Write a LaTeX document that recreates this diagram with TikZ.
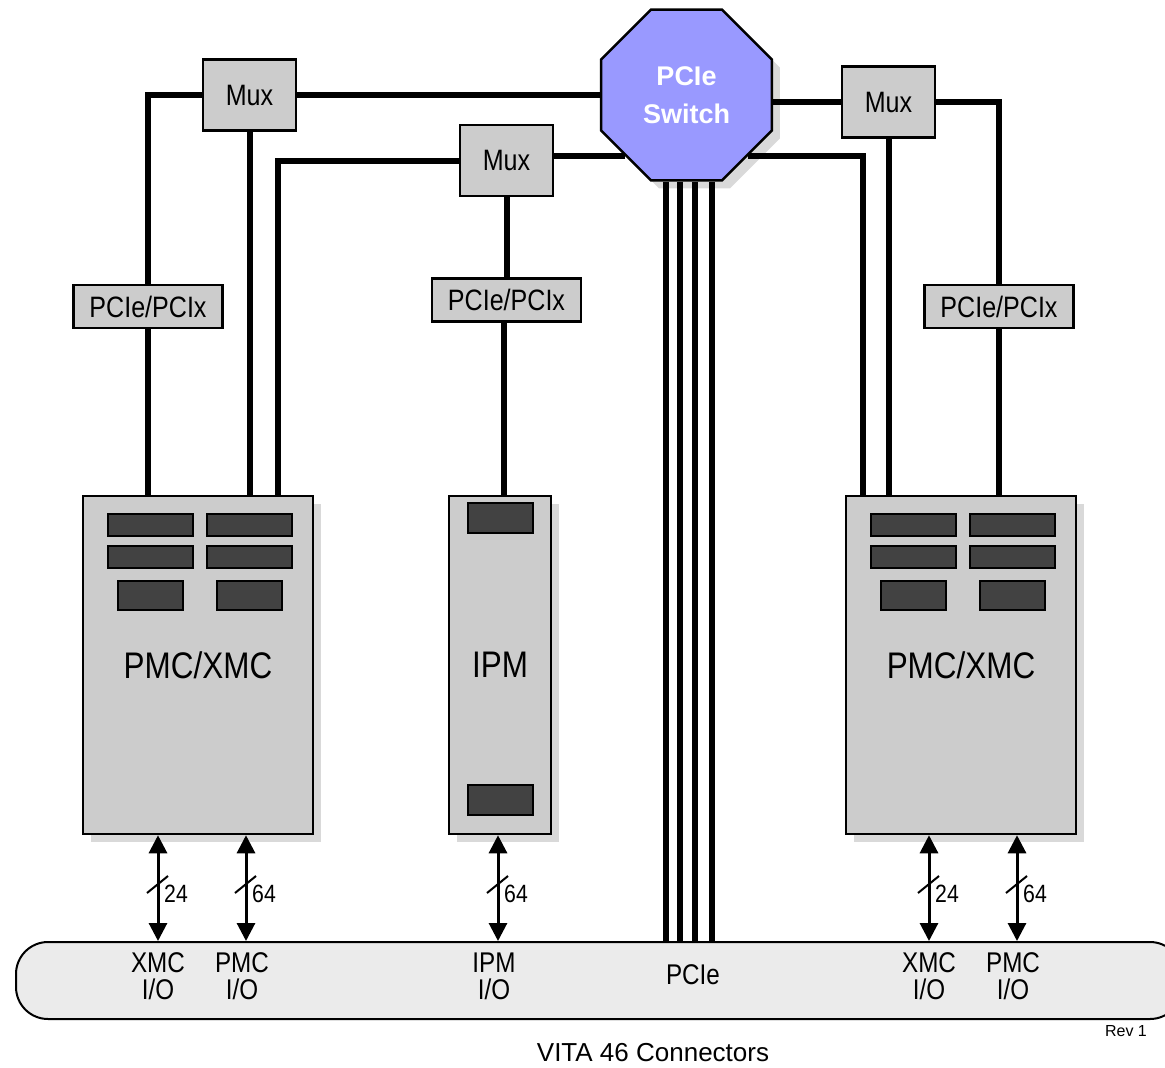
\documentclass[tikz,border=0pt]{standalone}
\usepackage{fontspec}
\setmainfont{Liberation Sans}
\newfontfamily\nar{Liberation Sans}[FakeStretch=0.85]
\usetikzlibrary{shapes.geometric,arrows.meta,shadows}
\definecolor{boxgray}{HTML}{CCCCCC}
\definecolor{slotgray}{HTML}{424242}
\definecolor{shadowgray}{HTML}{D9D9D9}
\definecolor{busgray}{HTML}{EBEBEB}
\definecolor{swblue}{HTML}{9999FF}
\begin{document}
\begin{tikzpicture}[x=1pt,y=-1pt,
  sh/.style={drop shadow={shadow xshift=8pt,shadow yshift=-8pt,fill=shadowgray,opacity=1}},
  smallbox/.style={draw,line width=2.5pt,fill=boxgray,inner sep=0pt,
    font=\nar\fontsize{29.5}{30}\selectfont},
  bigbox/.style={draw,line width=2.5pt,fill=boxgray,inner sep=0pt,sh,
    minimum height=338pt,font=\nar\fontsize{37}{40}\selectfont},
  slot/.style={draw,line width=2pt,fill=slotgray},
  wire/.style={line width=6pt},
  io/.style={line width=3pt,{Triangle[width=18pt,length=18pt]}-{Triangle[width=18pt,length=18pt]}},
  slash/.style={line width=2pt},
  num/.style={anchor=west,inner sep=0pt,font=\nar\fontsize{25}{26}\selectfont},
  buslabel/.style={align=center,inner sep=0pt,font=\nar\fontsize{28.5}{27}\selectfont}]
\useasboundingbox (0,0) rectangle (1165,1068);

% switch
\node[regular polygon,regular polygon sides=8,minimum size=185pt,inner sep=0pt,
  draw,line width=2.5pt,fill=swblue,sh,text=white,align=center,
  font=\bfseries\fontsize{27}{38}\selectfont] (sw) at (686.5,95) {PCIe\\Switch};

% mux boxes
\node[smallbox,minimum width=93pt,minimum height=71pt] (mux1) at (249.5,95) {Mux};
\node[smallbox,minimum width=93pt,minimum height=71pt] (mux2) at (506.5,160.5) {Mux};
\node[smallbox,minimum width=93pt,minimum height=71pt] (mux3) at (888.5,102) {Mux};

% bridge boxes
\node[smallbox,minimum width=149pt,minimum height=43pt] (pcL) at (148,306.5) {PCIe/PCIx};
\node[smallbox,minimum width=149pt,minimum height=43pt] (pcC) at (506.5,300) {PCIe/PCIx};
\node[smallbox,minimum width=149pt,minimum height=43pt] (pcR) at (999,306.5) {PCIe/PCIx};

% modules
\node[bigbox,minimum width=230pt] (pmcL) at (198,665) {PMC/XMC};
\node[bigbox,minimum width=102pt] (ipm) at (500,665) {IPM};
\node[bigbox,minimum width=230pt] (pmcR) at (961,665) {PMC/XMC};

% connector slots
\draw[slot] (108,514) rectangle (193,536);
\draw[slot] (207,514) rectangle (292,536);
\draw[slot] (108,546) rectangle (193,568);
\draw[slot] (207,546) rectangle (292,568);
\draw[slot] (118,581) rectangle (183,610);
\draw[slot] (217,581) rectangle (282,610);
\draw[slot] (871,514) rectangle (956,536);
\draw[slot] (970,514) rectangle (1055,536);
\draw[slot] (871,546) rectangle (956,568);
\draw[slot] (970,546) rectangle (1055,568);
\draw[slot] (881,581) rectangle (946,610);
\draw[slot] (980,581) rectangle (1045,610);
\draw[slot] (468,503) rectangle (533,533);
\draw[slot] (468,785) rectangle (533,815);

% bus
\node[draw,line width=2pt,fill=busgray,rounded corners=32pt,minimum width=1166pt,
  minimum height=77pt,inner sep=0pt] (bus) at (599,980.5) {};

% wires
\coordinate (cL) at (278,300);
\coordinate (cR) at (863,300);
\draw[wire] (mux1.west) -| (pcL.north);
\draw[wire] (pcL.south) -- (pcL.south |- pmcL.north);
\draw[wire] (mux1.south) -- (mux1.south |- pmcL.north);
\draw[wire] (mux1.east) -- (mux1.east -| sw.west);
\draw[wire] (mux2.west) -| (cL |- pmcL.north);
\draw[wire] (sw.225) -- (sw.225 -| mux2.east);
\draw[wire] (mux2.south) -- (pcC.north);
\draw[wire] ([xshift=-3pt]pcC.south) -- ([xshift=-3pt]pcC.south |- ipm.north);
\draw[wire] (mux3.west) -- (mux3.west -| sw.east);
\draw[wire] (sw.-45) -| (cR |- pmcR.north);
\draw[wire] (mux3.south) -- (mux3.south |- pmcR.north);
\draw[wire] (mux3.east) -| (pcR.north);
\draw[wire] (pcR.south) -- (pcR.south |- pmcR.north);
\foreach \dx in {-20.5,-6.5,8.5,25.5}
  \draw[wire] ([xshift=\dx pt]sw.south) -- ([xshift=\dx pt]sw.south |- bus.north);

% I/O arrows
\coordinate (a1) at (158,885);
\coordinate (a2) at (246,885);
\coordinate (a3) at (498,885);
\coordinate (a4) at (929,885);
\coordinate (a5) at (1017,885);
\draw[io] (pmcL.south -| a1) -- (bus.north -| a1);
\draw[io] (pmcL.south -| a2) -- (bus.north -| a2);
\draw[io] (ipm.south -| a3) -- (bus.north -| a3);
\draw[io] (pmcR.south -| a4) -- (bus.north -| a4);
\draw[io] (pmcR.south -| a5) -- (bus.north -| a5);
\foreach \a/\n in {a1/24,a2/64,a3/64,a4/24,a5/64}{
  \draw[slash] ([shift={(-11,8)}]\a) -- ([shift={(10,-9)}]\a);
  \node[num] (n\a) at ([shift={(6,9)}]\a) {\n};
}

% bus labels
\node[buslabel] (l1) at (158,976.5) {XMC\\I/O};
\node[buslabel] (l2) at (242,976.5) {PMC\\I/O};
\node[buslabel] (l3) at (494,976.5) {IPM\\I/O};
\node[buslabel] (l4) at (693,975) {PCIe};
\node[buslabel] (l5) at (929,976.5) {XMC\\I/O};
\node[buslabel] (l6) at (1013,976.5) {PMC\\I/O};

\node[font=\fontsize{16}{18}\selectfont,inner sep=0pt] (rev) at (1126,1031) {Rev 1};
\node[font=\fontsize{26}{30}\selectfont,inner sep=0pt] (vita) at (653,1053) {VITA 46 Connectors};
\end{tikzpicture}
\end{document}
